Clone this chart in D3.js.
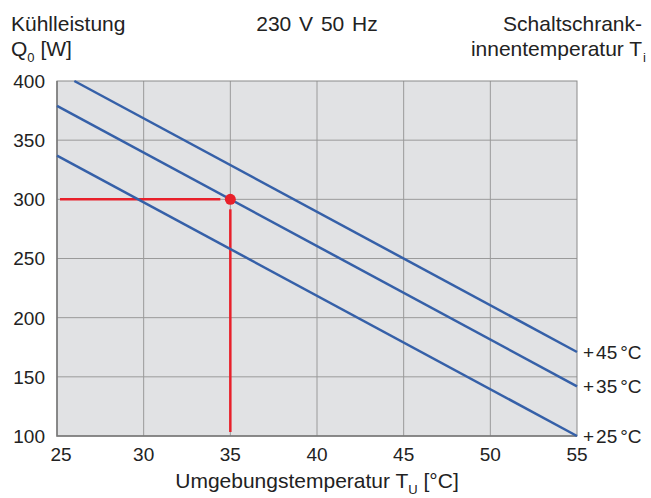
<!DOCTYPE html>
<html lang="de">
<head>
<meta charset="utf-8">
<title>Kühlleistung</title>
<script src="https://d3js.org/d3.v7.min.js"></script>
<style>
    body { margin: 0; background: #fff; }
    svg text { font-family: "Liberation Sans", Arial, sans-serif; font-size: 19px; fill: #222; }
    svg text.title { font-size: 21px; }
    .grid line { stroke: #9a9a9a; stroke-width: 1px; }
    .curve { fill: none; stroke: #3560a8; stroke-width: 2.5px; }
    .mark { stroke: #e8202a; stroke-width: 2.5px; fill: none; }
</style>
</head>
<body>
<div id="chart"></div>
<script>
    var X_TICKS = [25, 30, 35, 40, 45, 50, 55];
    var Y_TICKS = [100, 150, 200, 250, 300, 350, 400];

    // inside temperature curves: [ambient °C, cooling power W]
    var CURVE_TEMPS = ["45", "35", "25"];
    var CURVE_45 = [[26, 400], [55, 171]];
    var CURVE_35 = [[25, 379], [55, 142]];
    var CURVE_25 = [[25, 337], [55, 100]];
    var CURVES = [CURVE_45, CURVE_35, CURVE_25];

    // operating point
    var POINT = [35, 300];

    var WIDTH = 651, HEIGHT = 498;
    var margin = { left: 57, right: 74, top: 81, bottom: 62 };

    var svg = d3.select("#chart").append("svg")
        .attr("width", WIDTH)
        .attr("height", HEIGHT);

    var x = d3.scaleLinear().domain([25, 55]).range([margin.left, WIDTH - margin.right]);
    var y = d3.scaleLinear().domain([100, 400]).range([HEIGHT - margin.bottom, margin.top]);

    // background
    svg.append("rect")
        .attr("x", x(25)).attr("y", y(400))
        .attr("width", x(55) - x(25)).attr("height", y(100) - y(400))
        .attr("fill", "#e1e2e4");

    // grid
    var grid = svg.append("g").attr("class", "grid");
    grid.selectAll(".gx").data(X_TICKS.slice(1, -1)).enter().append("line")
        .attr("x1", d => x(d)).attr("x2", d => x(d))
        .attr("y1", y(400)).attr("y2", y(100));
    grid.selectAll(".gy").data(Y_TICKS.slice(1, -1)).enter().append("line")
        .attr("y1", d => y(d)).attr("y2", d => y(d))
        .attr("x1", x(25)).attr("x2", x(55));

    // frame
    svg.append("rect")
        .attr("x", x(25)).attr("y", y(400))
        .attr("width", x(55) - x(25)).attr("height", y(100) - y(400))
        .attr("fill", "none").attr("stroke", "#8a8a8a").attr("stroke-width", 1);
    svg.append("path")
        .attr("d", "M" + x(25) + "," + y(400) + "V" + y(100) + "H" + x(55))
        .attr("fill", "none").attr("stroke", "#777").attr("stroke-width", 1.5);

    // axis labels
    svg.selectAll(".ylab").data(Y_TICKS).enter().append("text")
        .attr("x", 45).attr("y", d => y(d))
        .attr("dy", "0.36em")
        .attr("text-anchor", "end")
        .text(d => d);
    svg.selectAll(".xlab").data(X_TICKS).enter().append("text")
        .attr("x", (d, i) => x(d) + (i === 0 ? 4 : 0)).attr("y", y(100) + 25)
        .attr("text-anchor", "middle")
        .text(d => d);

    // red construction lines
    svg.append("line").attr("class", "mark")
        .attr("x1", x(25) + 3).attr("x2", x(POINT[0]) - 10)
        .attr("y1", y(POINT[1])).attr("y2", y(POINT[1]));
    svg.append("line").attr("class", "mark")
        .attr("x1", x(POINT[0])).attr("x2", x(POINT[0]))
        .attr("y1", y(POINT[1]) + 10).attr("y2", y(100) - 4);

    // curves
    var line = d3.line().x(d => x(d[0])).y(d => y(d[1]));
    svg.selectAll(".curve").data(CURVES).enter().append("path")
        .attr("class", "curve")
        .attr("d", line);

    svg.append("circle")
        .attr("cx", x(POINT[0])).attr("cy", y(POINT[1]))
        .attr("r", 5.5).attr("fill", "#e8202a");

    var clab = svg.selectAll(".clab").data(CURVES).enter().append("text")
        .attr("x", x(55) + 6)
        .attr("y", d => y(d[d.length - 1][1]))
        .attr("dy", "0.36em");
    clab.append("tspan").text("+");
    clab.append("tspan").attr("dx", 2).text((d, i) => CURVE_TEMPS[i]);
    clab.append("tspan").attr("dx", 3).text("°C");

    // titles
    svg.append("text").attr("class", "title").attr("x", 11).attr("y", 31).text("Kühlleistung");
    var q = svg.append("text").attr("class", "title").attr("x", 11).attr("y", 56);
    q.append("tspan").text("Q");
    q.append("tspan").attr("font-size", "13px").attr("dy", 6).text("0");
    q.append("tspan").attr("dy", -6).text(" [W]");

    svg.append("text").attr("class", "title").attr("x", 317).attr("y", 31)
        .attr("text-anchor", "middle").attr("word-spacing", "2px").text("230 V 50 Hz");

    svg.append("text").attr("class", "title").attr("x", 642).attr("y", 31)
        .attr("text-anchor", "end").text("Schaltschrank-");
    var ti = svg.append("text").attr("class", "title").attr("x", 646).attr("y", 56)
        .attr("text-anchor", "end");
    ti.append("tspan").text("innentemperatur T");
    ti.append("tspan").attr("font-size", "13px").attr("dx", 1).attr("dy", 6).text("i");

    var xt = svg.append("text").attr("class", "title").attr("x", 317).attr("y", 488)
        .attr("text-anchor", "middle");
    xt.append("tspan").text("Umgebungstemperatur T");
    xt.append("tspan").attr("font-size", "13px").attr("dy", 6).text("U");
    xt.append("tspan").attr("dy", -6).text(" [°C]");
</script>
</body>
</html>
